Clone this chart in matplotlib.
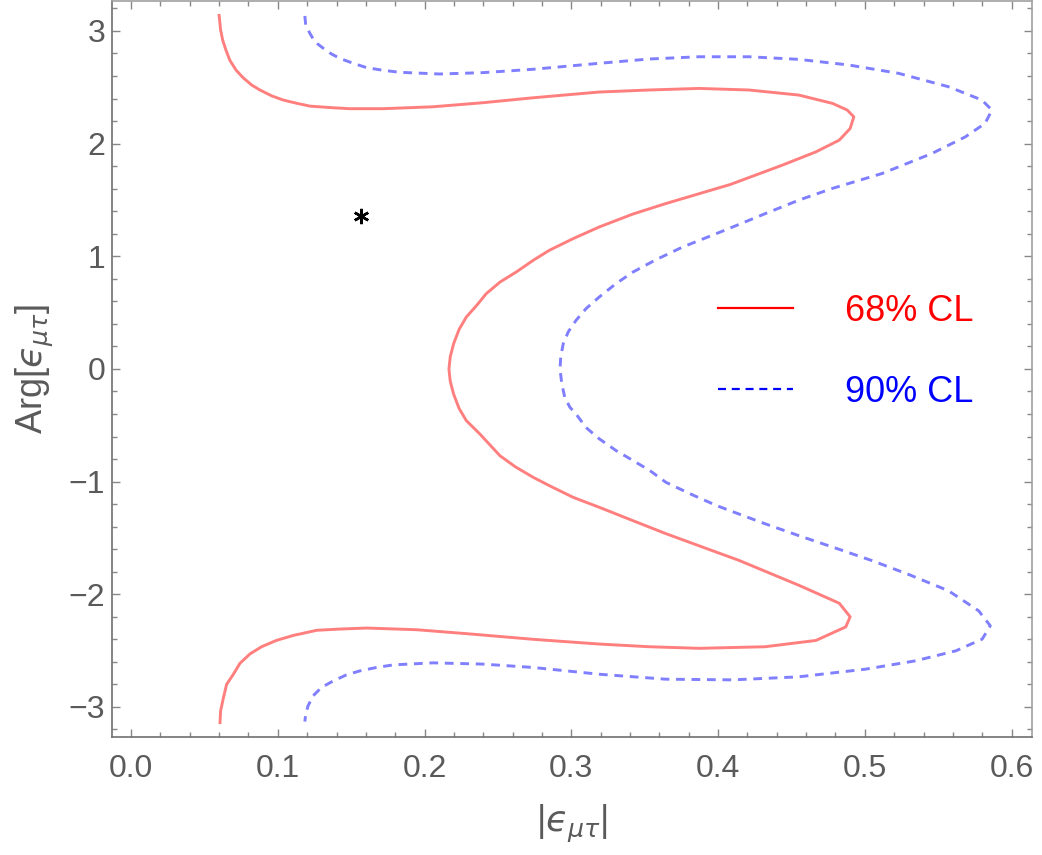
import numpy as np
import matplotlib
matplotlib.use("Agg")
import matplotlib.pyplot as plt
from matplotlib.lines import Line2D
from matplotlib.ticker import MultipleLocator, FormatStrFormatter

plt.rcParams['font.family'] = ['Liberation Sans', 'DejaVu Sans']
plt.rcParams['mathtext.fontset'] = 'dejavusans'

# 68% CL contour, traced from top (Arg = pi) to bottom (Arg = -pi)
red_x = [0.060, 0.0610, 0.0624, 0.0646, 0.0673, 0.0715, 0.0764, 0.0822, 0.0878,
         0.0958, 0.1036, 0.1129, 0.1218, 0.1355, 0.149, 0.1717,
         0.2057, 0.2397, 0.274, 0.319, 0.353, 0.387, 0.421, 0.455, 0.478, 0.488,
         0.4925, 0.490, 0.4826, 0.4667, 0.4438, 0.4085, 0.3644, 0.342, 0.319,
         0.3013, 0.285, 0.274, 0.2624, 0.2514, 0.242, 0.2355, 0.2284, 0.2235,
         0.2198, 0.2175, 0.2166,
         0.2175, 0.2198, 0.2235, 0.2284, 0.2377, 0.2514, 0.262, 0.274,
         0.285, 0.3013, 0.319, 0.342, 0.364, 0.399, 0.414, 0.455, 0.4826,
         0.490, 0.487, 0.4667, 0.432, 0.387, 0.353, 0.319, 0.274, 0.2287, 0.1946,
         0.1606, 0.1422, 0.1265, 0.1104, 0.099, 0.0889, 0.081, 0.0742, 0.0697,
         0.0651, 0.0629, 0.0610, 0.0606]
red_y = [3.138, 3.009, 2.92, 2.831, 2.74, 2.653, 2.584, 2.52, 2.476,
         2.424, 2.387, 2.358, 2.333, 2.32, 2.31, 2.31,
         2.327, 2.363, 2.407, 2.458, 2.476, 2.49, 2.476, 2.431, 2.357, 2.298,
         2.238, 2.134, 2.031, 1.927, 1.809, 1.638, 1.468, 1.375, 1.26,
         1.157, 1.053, 0.964, 0.86, 0.771, 0.668, 0.564, 0.46, 0.35,
         0.224, 0.109, 0.0,
         -0.11, -0.224, -0.35, -0.458, -0.578, -0.771, -0.87, -0.962,
         -1.036, -1.14, -1.228, -1.347, -1.46, -1.627, -1.698, -1.92, -2.08,
         -2.2, -2.29, -2.41, -2.466, -2.48, -2.466, -2.442, -2.40, -2.35, -2.315,
         -2.30, -2.309, -2.32, -2.366, -2.41, -2.466, -2.53, -2.613, -2.71,
         -2.80, -2.92, -3.035, -3.14]

# 90% CL contour
blue_x = [0.1184, 0.119, 0.1218, 0.1252, 0.131, 0.1365, 0.1422, 0.1513, 0.1606,
          0.1717, 0.183, 0.2102, 0.2397, 0.274,
          0.319, 0.353, 0.387, 0.421, 0.455, 0.489, 0.523, 0.557, 0.5798, 0.5866,
          0.582, 0.5685, 0.5458, 0.5118, 0.4778, 0.455, 0.4324, 0.410, 0.399,
          0.376, 0.3576, 0.342, 0.3304, 0.319, 0.31, 0.3032, 0.2980, 0.2945,
          0.2928, 0.2923,
          0.2935, 0.2955, 0.299, 0.3032, 0.31, 0.319, 0.3304, 0.342, 0.3535,
          0.3644, 0.3807, 0.399, 0.4171, 0.4324, 0.455, 0.480, 0.505,
          0.530, 0.557, 0.5776, 0.5855, 0.580, 0.5621, 0.5345, 0.5005, 0.455,
          0.410, 0.3644, 0.319, 0.274, 0.2397, 0.2057, 0.1787, 0.1672, 0.156,
          0.1467, 0.1378, 0.1297, 0.124, 0.1206, 0.119, 0.1184]
blue_y = [3.133, 3.053, 2.98, 2.904, 2.846, 2.796, 2.757, 2.713, 2.674,
          2.651, 2.633, 2.618, 2.63, 2.66,
          2.713, 2.751, 2.771, 2.771, 2.748, 2.698, 2.624, 2.505, 2.387, 2.298,
          2.18, 2.06, 1.913, 1.735, 1.602, 1.498, 1.38, 1.26, 1.202,
          1.083, 0.969, 0.86, 0.757, 0.638, 0.535, 0.431, 0.331, 0.224,
          0.109, 0.0,
          -0.132, -0.25, -0.34, -0.40, -0.52, -0.62, -0.724, -0.813, -0.902,
          -1.006, -1.107, -1.213, -1.302, -1.376, -1.48, -1.59, -1.702,
          -1.825, -1.969, -2.147, -2.28, -2.398, -2.502, -2.591, -2.665, -2.733,
          -2.76, -2.754, -2.71, -2.65, -2.62, -2.609, -2.627, -2.65, -2.68,
          -2.716, -2.769, -2.828, -2.902, -2.99, -3.065, -3.13]

# best fit point
best_x = [0.157]
best_y = [1.36]

labels = ['68% CL', '90% CL']

# ....... Plot ........

fig = plt.figure(figsize=(10.42, 8.55), dpi=100)
ax = fig.add_axes([0.1075, 0.138, 0.883, 0.861])

ax.plot(red_x, red_y, color='#ff7f7f', lw=2.1, solid_joinstyle='round')
ax.plot(blue_x, blue_y, color='#7f7fff', lw=2.1, dashes=(3.0, 2.3))
ax.plot(best_x, best_y, ls='none', marker=(6, 2, 0), ms=11, mew=1.8,
        color='k')

ax.set_xlim(-0.013, 0.614)
ax.set_ylim(-np.pi * 1.04, np.pi * 1.04)

# --- ticks, Mathematica style frame
ax.xaxis.set_major_locator(MultipleLocator(0.1))
ax.xaxis.set_minor_locator(MultipleLocator(0.02))
ax.yaxis.set_major_locator(MultipleLocator(1))
ax.yaxis.set_minor_locator(MultipleLocator(0.2))
ax.xaxis.set_major_formatter(FormatStrFormatter('%.1f'))

ax.tick_params(which='both', direction='in', top=True, right=True,
               color='#888888', width=1.0, labelcolor='#5a5a5a', labelsize=23)
ax.tick_params(which='major', length=6)
ax.tick_params(which='minor', length=3.5)
ax.tick_params(axis='x', which='major', pad=12)
ax.tick_params(axis='y', which='major', pad=5)

for side in ['left', 'bottom']:
    ax.spines[side].set_color('#707070')
for side in ['top', 'right']:
    ax.spines[side].set_color('#a0a0a0')
for sp in ax.spines.values():
    sp.set_linewidth(1.2)

eps = '$\u03f5_{\\mu\\tau}$'
ax.set_xlabel('|' + eps + '|', fontsize=26, color='#5a5a5a', labelpad=14)
ax.set_ylabel('Arg[' + eps + ']', fontsize=26, color='#5a5a5a', labelpad=9)

# --- legend
handles = [Line2D([], [], color='red', lw=1.6),
           Line2D([], [], color='blue', lw=1.6, dashes=(3.6, 2.6))]
leg = ax.legend(handles, labels, loc='center left',
                bbox_to_anchor=(0.659, 0.523), frameon=False, fontsize=26,
                handlelength=2.08, handletextpad=1.44, labelspacing=1.27,
                borderpad=0, borderaxespad=0, labelcolor=['red', 'blue'])

fig.savefig('out.png', dpi=100)
